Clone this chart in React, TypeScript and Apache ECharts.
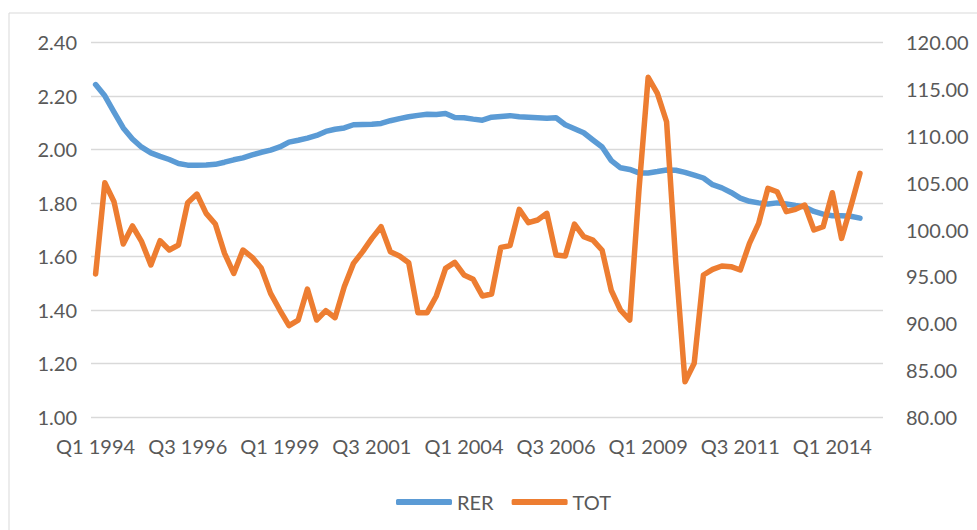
import React, { useEffect, useRef } from "react";
import * as echarts from "echarts";

const categories: string[] = [];
for (let y = 1994; y <= 2015; y++) {
  for (let q = 1; q <= 4; q++) {
    if (y === 2015 && q > 2) break;
    categories.push(`Q${q} ${y}`);
  }
}

const rer = [
  2.242, 2.2, 2.139, 2.08, 2.039, 2.008, 1.987, 1.974, 1.962, 1.947,
  1.941, 1.941, 1.942, 1.944, 1.952, 1.961, 1.968, 1.979, 1.989, 1.997,
  2.009, 2.027, 2.034, 2.042, 2.052, 2.067, 2.075, 2.08, 2.092, 2.093,
  2.094, 2.097, 2.107, 2.115, 2.122, 2.127, 2.131, 2.13, 2.134, 2.119,
  2.118, 2.113, 2.109, 2.12, 2.123, 2.126, 2.122, 2.12, 2.118, 2.116,
  2.118, 2.092, 2.077, 2.062, 2.035, 2.009, 1.958, 1.931, 1.925, 1.912,
  1.912, 1.917, 1.923, 1.922, 1.914, 1.904, 1.893, 1.868, 1.856, 1.839,
  1.818, 1.806, 1.8, 1.796, 1.8, 1.796, 1.79, 1.785, 1.768, 1.758,
  1.752, 1.752, 1.75, 1.743,
];

const tot = [
  95.26, 105.01, 102.98, 98.47, 100.39, 98.72, 96.23, 98.82, 97.83, 98.36,
  102.88, 103.8, 101.74, 100.6, 97.47, 95.33, 97.83, 97.05, 95.87, 93.2,
  91.42, 89.75, 90.35, 93.66, 90.35, 91.35, 90.6, 93.91, 96.4, 97.65,
  99.07, 100.31, 97.65, 97.19, 96.47, 91.14, 91.14, 92.92, 95.87, 96.51,
  95.16, 94.7, 92.92, 93.13, 98.11, 98.29, 102.17, 100.74, 101.03, 101.74,
  97.29, 97.19, 100.6, 99.25, 98.89, 97.8, 93.5, 91.4, 90.35, 104.2,
  116.26, 114.55, 111.52, 96.5, 83.77, 85.73, 95.16, 95.76, 96.12, 96.05,
  95.69, 98.54, 100.67, 104.41, 104.05, 101.92, 102.17, 102.63, 99.96, 100.31,
  103.94, 99.07, 102.45, 106.01,
];

const FONT = "Lato";
const TXT = "#595959";

export default function App() {
  const ref = useRef<HTMLDivElement>(null);
  useEffect(() => {
    if (!ref.current) return;
    const chart = echarts.init(ref.current, undefined, { renderer: "svg" });
    chart.setOption({
      animation: false,
      backgroundColor: "#ffffff",
      textStyle: { fontFamily: FONT },
      graphic: [
        {
          type: "rect",
          z: -10,
          shape: { x: 9, y: 13, width: 1000, height: 600 },
          style: { fill: "none", stroke: "#d9d9d9", lineWidth: 1 },
        },
      ],
      grid: { left: 91, right: 94, top: 42.3, bottom: 113 },
      legend: {
        data: ["RER", "TOT"],
        left: 391,
        top: 487,
        icon: "roundRect",
        itemWidth: 56,
        itemHeight: 6,
        itemGap: 18,
        textStyle: { fontFamily: FONT, fontSize: 20, color: TXT },
      },
      xAxis: {
        type: "category",
        data: categories,
        boundaryGap: true,
        axisLine: { show: false },
        axisTick: { show: false },
        axisLabel: {
          interval: 9,
          margin: 19,
          fontFamily: FONT,
          fontSize: 20,
          color: TXT,
        },
      },
      yAxis: [
        {
          type: "value",
          min: 1,
          max: 2.4,
          interval: 0.2,
          axisLine: { show: false },
          axisTick: { show: false },
          splitLine: { lineStyle: { color: "#d9d9d9", width: 1.3 } },
          axisLabel: {
            margin: 14,
            fontFamily: FONT,
            fontSize: 20,
            color: TXT,
            formatter: (v: number) => v.toFixed(2),
          },
        },
        {
          type: "value",
          min: 80,
          max: 120,
          interval: 5,
          position: "right",
          axisLine: { show: false },
          axisTick: { show: false },
          splitLine: { show: false },
          axisLabel: {
            margin: 23,
            fontFamily: FONT,
            fontSize: 20,
            color: TXT,
            formatter: (v: number) => v.toFixed(2),
          },
        },
      ],
      series: [
        {
          name: "RER",
          type: "line",
          yAxisIndex: 0,
          data: rer,
          symbol: "none",
          color: "#5b9bd5",
          lineStyle: { width: 5.5, color: "#5b9bd5", cap: "round", join: "round" },
        },
        {
          name: "TOT",
          type: "line",
          yAxisIndex: 1,
          data: tot,
          symbol: "none",
          color: "#ed7d31",
          lineStyle: { width: 5.5, color: "#ed7d31", cap: "round", join: "round" },
        },
      ],
    });
    return () => chart.dispose();
  }, []);
  return (
    <div
      ref={ref}
      style={{ position: "absolute", left: 0, top: 0, width: 977, height: 530 }}
    />
  );
}
